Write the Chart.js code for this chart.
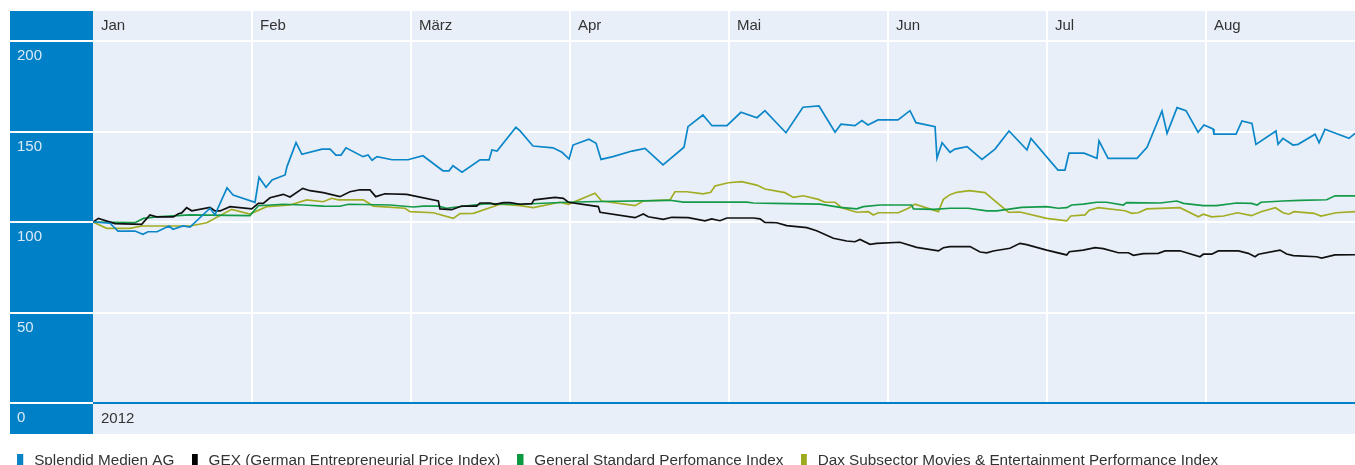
<!DOCTYPE html>
<html>
<head>
<meta charset="utf-8">
<script src="https://cdn.jsdelivr.net/npm/chart.js@4/dist/chart.umd.min.js"></script>
<style>
html,body{margin:0;padding:0;background:#fff;overflow:hidden;}
#wrap{width:1355px;height:478px;}
</style>
</head>
<body>
<div id="wrap"><canvas id="c" width="1355" height="478"></canvas></div>
<script>
// x positions are in months since 1 Jan 2012 (0 = Jan, 1 = Feb, ...)
const months = ['Jan','Feb','März','Apr','Mai','Jun','Jul','Aug'];
const yearLabel = '2012';
const xMax = 7.937;
const yTicks = [0, 50, 100, 150, 200];
const seriesNames = ['Splendid Medien AG','GEX (German Entrepreneurial Price Index)','General Standard Perfomance Index','Dax Subsector Movies & Entertainment Performance Index'];

const splendid = [[0,100],[0.107,99.3],[0.157,95.0],[0.264,95.0],[0.314,93.2],[0.346,94.6],[0.403,94.6],[0.478,97.8],[0.503,96.0],[0.566,97.8],[0.610,97.2],[0.736,107.6],[0.767,103.9],[0.843,118.9],[0.881,114.9],[1.019,110.9],[1.044,124.7],[1.088,119.2],[1.126,123.2],[1.208,126.0],[1.220,130.6],[1.277,143.8],[1.314,137.4],[1.440,140.3],[1.491,140.3],[1.528,137.0],[1.560,137.0],[1.591,141.0],[1.698,136.1],[1.730,137.0],[1.755,134.1],[1.786,136.1],[1.881,134.4],[1.981,134.4],[2.075,136.6],[2.201,128.3],[2.239,128.3],[2.264,131.1],[2.321,127.5],[2.434,134.3],[2.491,134.3],[2.509,139.8],[2.541,139.2],[2.660,152.3],[2.686,150.3],[2.767,142.0],[2.893,141.0],[2.950,138.5],[2.994,134.8],[3.019,142.5],[3.119,145.7],[3.164,143.5],[3.195,134.6],[3.270,136.1],[3.390,139.2],[3.472,140.7],[3.585,131.5],[3.717,141.3],[3.742,152.7],[3.836,159.1],[3.893,153.2],[3.987,153.2],[4.075,160.6],[4.176,157.6],[4.226,161.5],[4.358,149.3],[4.465,163.4],[4.566,164.1],[4.667,149.6],[4.704,154.0],[4.792,153.2],[4.836,156.0],[4.874,153.6],[4.937,156.4],[5.063,156.4],[5.138,161.5],[5.176,154.9],[5.296,152.7],[5.308,135.2],[5.340,143.8],[5.390,138.5],[5.421,140.3],[5.497,141.6],[5.591,134.6],[5.673,140.3],[5.761,150.3],[5.874,139.8],[5.899,146.2],[6.069,128.7],[6.113,128.7],[6.138,138.0],[6.233,138.0],[6.314,135.2],[6.327,144.8],[6.384,135.2],[6.566,135.2],[6.629,141.3],[6.723,161.3],[6.755,149.0],[6.818,163.2],[6.874,161.5],[6.950,149.6],[6.987,153.6],[7.044,151.4],[7.050,148.6],[7.189,148.5],[7.226,155.8],[7.289,154.5],[7.314,142.9],[7.440,150.3],[7.453,142.9],[7.484,146.2],[7.547,142.5],[7.579,142.9],[7.686,148.5],[7.711,143.8],[7.748,151.2],[7.899,146.2],[7.937,149.0]];

const gex = [[0,100],[0.034,102.0],[0.138,99.1],[0.306,98.7],[0.358,103.9],[0.40,102.8],[0.505,102.8],[0.537,104.6],[0.558,105.0],[0.589,107.9],[0.621,106.2],[0.736,108.1],[0.767,106.1],[0.799,106.1],[0.862,108.5],[0.998,107.2],[1.040,110.3],[1.071,110.3],[1.113,113.4],[1.197,115.3],[1.239,113.8],[1.319,118.6],[1.365,117.3],[1.448,116.2],[1.553,114.0],[1.616,116.7],[1.679,117.8],[1.742,117.7],[1.778,114.0],[1.836,115.6],[1.973,115.3],[2.172,111.6],[2.182,107.2],[2.256,106.8],[2.319,108.8],[2.413,108.8],[2.434,110.5],[2.497,110.5],[2.528,109.8],[2.581,110.7],[2.623,110.7],[2.686,109.8],[2.759,110.1],[2.774,112.2],[2.906,113.6],[2.958,113.1],[2.990,110.9],[3.178,108.5],[3.189,105.4],[3.409,102.4],[3.461,104.4],[3.492,102.9],[3.587,101.5],[3.640,102.6],[3.744,102.4],[3.849,100.6],[3.891,101.7],[3.943,100.7],[3.986,102.2],[4.153,102.2],[4.195,101.7],[4.226,99.8],[4.300,99.6],[4.363,98.0],[4.489,96.9],[4.551,95.2],[4.656,91.0],[4.740,89.5],[4.792,89.1],[4.824,90.4],[4.887,87.7],[4.929,88.2],[5.075,88.8],[5.180,86.0],[5.317,84.0],[5.348,85.8],[5.390,86.4],[5.516,86.4],[5.579,83.4],[5.621,83.0],[5.662,84.0],[5.767,85.5],[5.830,88.2],[5.872,87.5],[5.998,84.5],[6.124,81.8],[6.140,83.6],[6.228,84.5],[6.302,85.8],[6.354,85.3],[6.449,83.0],[6.512,83.0],[6.543,81.6],[6.606,82.5],[6.700,82.7],[6.742,84.0],[6.836,84.1],[6.962,80.8],[6.983,82.2],[7.036,82.2],[7.077,84.0],[7.204,84.0],[7.266,82.7],[7.308,80.8],[7.330,82.2],[7.465,84.5],[7.507,82.3],[7.549,81.4],[7.696,80.8],[7.727,80.1],[7.811,81.8],[7.937,81.9]];

const generalStandard = [[0,100],[0.264,99.6],[0.317,102.0],[0.40,102.8],[0.610,103.9],[0.987,103.5],[1.040,109.0],[1.197,109.8],[1.323,109.4],[1.448,108.8],[1.553,108.7],[1.606,109.8],[1.868,109.4],[2.015,108.3],[2.078,108.8],[2.172,108.8],[2.224,107.6],[2.287,108.3],[2.476,110.1],[2.686,109.8],[2.979,110.9],[3.105,111.2],[3.629,112.0],[3.713,111.0],[4.111,111.0],[4.153,110.5],[4.279,110.3],[4.572,109.9],[4.698,108.1],[4.803,107.3],[4.845,108.5],[4.950,109.4],[5.149,109.4],[5.160,107.2],[5.285,107.0],[5.390,107.6],[5.505,107.6],[5.621,106.1],[5.684,106.1],[5.841,108.1],[5.998,108.5],[6.071,107.6],[6.124,107.9],[6.155,109.4],[6.228,109.9],[6.312,110.9],[6.375,110.9],[6.480,109.4],[6.501,110.7],[6.711,110.5],[6.816,111.6],[6.858,110.3],[6.983,109.0],[7.067,109.0],[7.192,110.5],[7.286,110.3],[7.321,109.4],[7.346,110.9],[7.484,111.6],[7.590,112.0],[7.759,112.3],[7.811,114.5],[7.937,114.4]];

const daxMovies = [[0,100],[0.086,96.5],[0.233,96.5],[0.306,97.8],[0.610,97.8],[0.715,99.6],[0.872,107.0],[0.987,104.4],[1.092,108.5],[1.239,109.4],[1.344,112.2],[1.448,111.2],[1.501,113.1],[1.543,112.2],[1.700,112.3],[1.763,108.8],[1.962,107.6],[1.994,105.7],[2.140,105.1],[2.266,102.0],[2.308,104.6],[2.392,104.8],[2.560,109.8],[2.686,109.0],[2.769,107.9],[2.937,110.9],[2.990,109.8],[3.157,115.9],[3.199,111.6],[3.409,109.0],[3.461,111.6],[3.629,112.2],[3.660,116.7],[3.734,116.7],[3.838,115.5],[3.885,116.4],[3.912,119.9],[3.996,121.7],[4.080,122.3],[4.174,120.4],[4.226,118.2],[4.352,116.2],[4.405,113.6],[4.467,114.5],[4.562,112.5],[4.604,110.9],[4.667,110.9],[4.709,107.9],[4.803,105.4],[4.876,105.7],[4.908,103.9],[4.939,105.1],[5.065,105.1],[5.128,107.6],[5.170,109.9],[5.317,105.7],[5.348,112.5],[5.390,115.1],[5.432,116.4],[5.511,117.3],[5.610,116.2],[5.757,105.4],[5.830,105.5],[5.998,102.0],[6.124,100.6],[6.149,103.3],[6.239,103.9],[6.266,106.5],[6.323,107.9],[6.491,106.2],[6.533,104.8],[6.574,105.1],[6.627,107.2],[6.836,107.9],[6.952,102.9],[6.983,104.3],[7.036,102.8],[7.110,103.3],[7.198,105.1],[7.286,103.5],[7.346,105.7],[7.437,107.9],[7.484,105.1],[7.522,104.3],[7.553,105.7],[7.679,104.8],[7.723,103.3],[7.818,105.1],[7.937,105.7]];

const lineColors = ['#0b87c9', '#111111', '#149a49', '#a2ad24'];
const markerColors = ['#0a84c6', '#000000', '#0b9a40', '#9daa1e'];
const BG = '#e9eff8';
const COLUMN = '#0080c6';
const FONT = "'Liberation Sans', Arial, Helvetica, sans-serif";

function marker(color) {
  const c = document.createElement('canvas');
  c.width = 9; c.height = 13;
  const g = c.getContext('2d');
  g.fillStyle = color;
  g.fillRect(0, 0, 6, 13);
  return c;
}
const markers = markerColors.map(marker);

const toPts = arr => arr.map(p => ({x: p[0], y: p[1]}));
const allSeries = [splendid, gex, generalStandard, daxMovies];

const frame = {
  id: 'frame',
  beforeDraw(chart) {
    const {ctx, chartArea} = chart;
    const xs = chart.scales.x;
    const bottom = chartArea.bottom + 31;
    ctx.save();
    ctx.fillStyle = BG;
    ctx.fillRect(10, xs.top, chartArea.right - 10, bottom - xs.top);
    ctx.fillStyle = COLUMN;
    ctx.fillRect(10, xs.top, chartArea.left - 10, bottom - xs.top);
    ctx.restore();
  }
};

new Chart(document.getElementById('c'), {
  type: 'line',
  data: {
    datasets: allSeries.map((s, i) => ({
      label: seriesNames[i],
      data: toPts(s),
      borderColor: lineColors[i],
      backgroundColor: markerColors[i],
      borderWidth: 1.7,
      pointRadius: 0,
      pointHoverRadius: 0,
      tension: 0,
      fill: false,
      xAxisID: 'x',
      yAxisID: 'y'
    }))
  },
  options: {
    responsive: false,
    animation: false,
    events: [],
    layout: {padding: {left: 0, right: 0, top: 11, bottom: 0}},
    scales: {
      x: {
        type: 'linear',
        position: 'top',
        min: 0,
        max: xMax,
        afterBuildTicks: s => { s.ticks = months.map((m, i) => ({value: i})); },
        afterFit: s => { s.height = 30; },
        border: {display: false},
        grid: {
          color: c => c.tick && c.tick.value === 0 ? 'rgba(0,0,0,0)' : '#ffffff',
          tickColor: c => c.tick && c.tick.value === 0 ? 'rgba(0,0,0,0)' : '#ffffff',
          lineWidth: 2,
          drawTicks: true,
          tickLength: 30
        },
        ticks: {
          autoSkip: false,
          maxRotation: 0,
          align: 'start',
          labelOffset: 8,
          padding: -24,
          color: '#333333',
          font: {family: FONT, size: 15},
          callback: v => months[v]
        }
      },
      x2: {
        type: 'linear',
        position: 'bottom',
        min: 0,
        max: xMax,
        afterBuildTicks: s => { s.ticks = [{value: 0}]; },
        afterFit: s => { s.height = 32.7; },
        border: {display: false},
        grid: {display: false, drawTicks: false},
        ticks: {
          autoSkip: false,
          maxRotation: 0,
          align: 'start',
          labelOffset: 8,
          padding: 7,
          color: '#333333',
          font: {family: FONT, size: 15},
          callback: () => yearLabel
        }
      },
      y: {
        position: 'left',
        min: 0,
        max: 200,
        afterBuildTicks: s => { s.ticks = yTicks.map(v => ({value: v})); },
        afterFit: s => { s.width = 93; },
        border: {display: false},
        grid: {
          color: c => c.tick && c.tick.value === 0 ? COLUMN : '#ffffff',
          tickColor: '#ffffff',
          lineWidth: 2,
          drawTicks: true,
          tickLength: 83
        },
        ticks: {
          mirror: true,
          crossAlign: 'near',
          padding: -76,
          labelOffset: 15,
          color: '#d9eaf6',
          font: {family: FONT, size: 15},
          callback: v => String(v)
        }
      }
    },
    plugins: {
      tooltip: {enabled: false},
      legend: {
        position: 'bottom',
        align: 'start',
        labels: {
          usePointStyle: true,
          pointStyleWidth: 9.5,
          boxHeight: 13,
          padding: 17,
          color: '#333333',
          font: {family: FONT, size: 15.3},
          generateLabels: chart => {
            const items = Chart.defaults.plugins.legend.labels.generateLabels(chart);
            items.forEach((it, i) => { it.pointStyle = markers[i]; it.fillStyle = markerColors[i]; it.strokeStyle = markerColors[i]; it.lineWidth = 0; });
            return items;
          }
        }
      }
    }
  },
  plugins: [frame]
});
</script>
</body>
</html>
